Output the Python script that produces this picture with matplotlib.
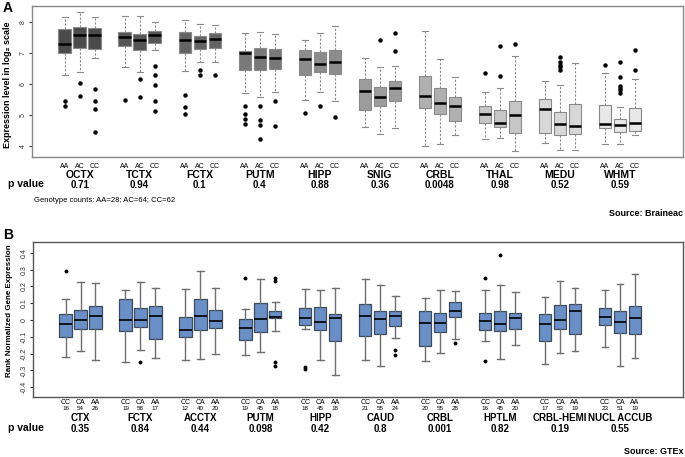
"""
Boxplots de expressão por genótipo em regiões cerebrais.
Painel A: Braineac (log2), painel B: GTEx (rank normalizado).
"""
import matplotlib
matplotlib.use("Agg")
import matplotlib.pyplot as plt
from matplotlib.transforms import blended_transform_factory

plt.rcParams["font.family"] = ["Liberation Sans", "DejaVu Sans"]

# ---------------------------------------------------------------------------
# Painel A - Braineac
# ---------------------------------------------------------------------------
regioes_a = ["OCTX", "TCTX", "FCTX", "PUTM", "HIPP",
             "SNIG", "CRBL", "THAL", "MEDU", "WHMT"]
p_a = ["0.71", "0.94", "0.1", "0.4", "0.88",
       "0.36", "0.0048", "0.98", "0.52", "0.59"]
genotipos_a = ["AA", "AC", "CC"]
cinzas_a = ["#4b4b4b", "#555555", "#636363", "#787878", "#8c8c8c",
            "#9c9c9c", "#b0b0b0", "#c6c6c6", "#d8d8d8", "#e8e8e8"]

# cada linha = uma região, valores para AA, AC, CC
med_a = [[7.29, 7.59, 7.57], [7.52, 7.41, 7.59], [7.41, 7.40, 7.45],
         [7.00, 6.88, 6.84], [6.81, 6.66, 6.70], [5.78, 5.60, 5.87],
         [5.62, 5.39, 5.29], [5.03, 4.76, 4.99], [5.19, 4.73, 4.66],
         [4.72, 4.67, 4.76]]
q1_a = [[7.00, 7.16, 7.14], [7.22, 7.09, 7.32], [7.02, 7.14, 7.18],
        [6.46, 6.44, 6.48], [6.30, 6.38, 6.34], [5.17, 5.30, 5.47],
        [5.23, 5.03, 4.81], [4.74, 4.61, 4.42], [4.44, 4.35, 4.38],
        [4.58, 4.46, 4.49]]
q3_a = [[7.77, 7.84, 7.80], [7.68, 7.61, 7.70], [7.68, 7.54, 7.65],
        [7.08, 7.18, 7.14], [7.11, 7.03, 7.11], [6.16, 5.92, 6.11],
        [6.25, 5.87, 5.57], [5.28, 5.17, 5.46], [5.52, 5.10, 5.35],
        [5.34, 4.89, 5.23]]
lo_a = [[6.28, 6.39, 6.85], [6.54, 6.38, 7.09], [6.43, 6.71, 6.71],
        [5.71, 5.60, 5.74], [5.49, 5.76, 5.47], [4.63, 4.39, 4.57],
        [4.01, 4.06, 4.37], [4.23, 4.25, 3.83], [4.10, 3.87, 3.88],
        [4.06, 4.06, 4.35]]
hi_a = [[8.15, 8.34, 8.18], [8.20, 8.21, 8.02], [8.08, 7.95, 7.91],
        [7.65, 7.69, 7.61], [7.43, 7.65, 7.86], [6.83, 6.55, 6.60],
        [7.70, 6.82, 6.23], [5.75, 5.86, 6.90], [6.11, 5.96, 6.68],
        [6.35, 5.27, 6.16]]
out_a = [[[5.47, 5.28], [6.03, 5.63], [5.84, 5.47, 5.19, 4.45]],
         [[5.49], [6.16, 5.58], [6.57, 6.30, 5.98, 5.44, 5.12]],
         [[5.66, 5.25, 5.03], [6.46, 6.30], [6.30]],
         [[5.28, 5.04, 4.88, 4.72], [5.31, 4.83, 4.67, 4.23], [5.44, 4.66]],
         [[5.06], [5.30], [4.94]],
         [[], [7.43], [7.65, 7.08]],
         [[], [], []],
         [[6.35], [6.25, 7.24], [7.29]],
         [[], [6.89, 6.73, 6.62, 6.54, 6.46], []],
         [[6.62], [6.73, 6.22, 5.95, 5.87, 5.80, 5.71], [7.09, 6.46]]]

# ---------------------------------------------------------------------------
# Painel B - GTEx
# ---------------------------------------------------------------------------
regioes_b = ["CTX", "FCTX", "ACCTX", "PUTM", "HIPP",
             "CAUD", "CRBL", "HPTLM", "CRBL-HEMI", "NUCL ACCUB"]
p_b = ["0.35", "0.84", "0.44", "0.098", "0.42",
       "0.8", "0.001", "0.82", "0.19", "0.55"]
genotipos_b = ["CC", "CA", "AA"]
n_b = [[16, 54, 26], [19, 58, 17], [12, 40, 20], [19, 45, 18], [18, 45, 18],
       [21, 55, 24], [20, 55, 28], [16, 45, 20], [17, 53, 19], [23, 51, 19]]

med_b = [[-0.024, 0.000, 0.022], [0.000, 0.000, 0.026], [-0.061, 0.022, -0.004],
         [-0.048, 0.004, 0.018], [0.012, -0.010, 0.012], [0.026, 0.008, 0.026],
         [-0.020, -0.020, 0.055], [-0.004, -0.022, 0.014], [-0.022, 0.000, 0.051],
         [0.020, -0.010, 0.012]]
q1_b = [[-0.100, -0.051, -0.051], [-0.063, -0.040, -0.111], [-0.099, -0.057, -0.048],
        [-0.117, -0.073, 0.010], [-0.032, -0.061, -0.123], [-0.097, -0.085, -0.036],
        [-0.156, -0.071, 0.016], [-0.059, -0.067, -0.051], [-0.123, -0.053, -0.085],
        [-0.032, -0.077, -0.081]]
q3_b = [[0.038, 0.061, 0.085], [0.123, 0.073, 0.081], [0.018, 0.123, 0.057],
        [0.006, 0.099, 0.051], [0.073, 0.077, 0.038], [0.097, 0.053, 0.051],
        [0.053, 0.044, 0.109], [0.044, 0.051, 0.042], [0.036, 0.091, 0.097],
        [0.073, 0.053, 0.083]]
lo_b = [[-0.218, -0.186, -0.236], [-0.250, -0.180, -0.224], [-0.240, -0.230, -0.204],
        [-0.206, -0.188, -0.063], [-0.053, -0.236, -0.325], [-0.240, -0.275, -0.107],
        [-0.246, -0.194, -0.111], [-0.125, -0.230, -0.150], [-0.259, -0.198, -0.182],
        [-0.162, -0.271, -0.224]]
hi_b = [[0.123, 0.226, 0.222], [0.176, 0.226, 0.190], [0.186, 0.293, 0.192],
        [0.063, 0.246, 0.107], [0.186, 0.180, 0.192], [0.242, 0.206, 0.143],
        [0.131, 0.180, 0.172], [0.176, 0.210, 0.166], [0.135, 0.232, 0.192],
        [0.176, 0.216, 0.271]]
out_b = [[[0.293], [], []],
         [[], [-0.250], []],
         [[], [], []],
         [[0.250], [], [0.250, 0.232, -0.250, -0.273]],
         [[-0.280, -0.289], [], []],
         [[], [], [-0.176, -0.206]],
         [[], [], [-0.137]],
         [[0.251, -0.246], [0.388], []],
         [[], [], []],
         [[], [], []]]


def montar_stats(med, q1, q3, lo, hi, out):
    stats = []
    for i in range(len(med)):
        for j in range(3):
            stats.append({"med": med[i][j], "q1": q1[i][j], "q3": q3[i][j],
                          "whislo": lo[i][j], "whishi": hi[i][j],
                          "fliers": out[i][j]})
    return stats


posicoes = [4 * i + j + 1 for i in range(10) for j in range(3)]
centros = [4 * i + 2 for i in range(10)]

fig = plt.figure(figsize=(6.85, 4.57), dpi=100)
W, H = 685, 457


def fy(px):
    return 1 - px / H


# ------------------------------- painel A ----------------------------------
axA = fig.add_axes([32 / W, fy(157), (683 - 32) / W, (157 - 6) / H])
bpA = axA.bxp(
    montar_stats(med_a, q1_a, q3_a, lo_a, hi_a, out_a),
    positions=posicoes, widths=0.82, capwidths=0.4, patch_artist=True,
    boxprops=dict(edgecolor="#8a8a8a", linewidth=0.8),
    medianprops=dict(color="black", linewidth=1.8),
    whiskerprops=dict(color="#8a8a8a", linewidth=0.8, linestyle=(0, (2, 1.5))),
    capprops=dict(color="#8a8a8a", linewidth=0.8),
    flierprops=dict(marker="o", markersize=2.2, markerfacecolor="black",
                    markeredgecolor="black"),
)
for k, caixa in enumerate(bpA["boxes"]):
    caixa.set_facecolor(cinzas_a[k // 3])

axA.set_xlim(-1.17, 42.2)
axA.set_ylim(3.65, 8.52)
axA.set_xticks([])
axA.set_yticks([4, 5, 6, 7, 8])
axA.tick_params(axis="y", labelsize=5, length=2, pad=2, labelrotation=90,
                colors="#333333")
for rot in axA.get_yticklabels():
    rot.set_va("center")
for lado in axA.spines.values():
    lado.set_color("#888888")
    lado.set_linewidth(1)
axA.set_ylabel("Expression level in log₂ scale", fontsize=6.5,
               fontweight="bold")
axA.yaxis.set_label_coords(-0.03, 0.48)

trA = blended_transform_factory(axA.transData, fig.transFigure)
for x, g in zip(posicoes, genotipos_a * 10):
    fig.text(x, fy(166), g, transform=trA, ha="center", va="center", fontsize=5)
for x, nome, p in zip(centros, regioes_a, p_a):
    fig.text(x, fy(175), nome, transform=trA, ha="center", va="center",
             fontsize=7.5, fontweight="bold")
    fig.text(x, fy(185), p, transform=trA, ha="center", va="center",
             fontsize=7, fontweight="bold")
fig.text(8 / W, fy(184), "p value", ha="left", va="center", fontsize=7.5,
         fontweight="bold")
fig.text(34 / W, fy(200), "Genotype counts: AA=28; AC=64; CC=62",
         ha="left", va="center", fontsize=5.5)
fig.text(683 / W, fy(213), "Source: Braineac", ha="right", va="center",
         fontsize=6.5, fontweight="bold")
fig.text(3 / W, fy(8), "A", ha="left", va="center", fontsize=10,
         fontweight="bold")

# ------------------------------- painel B ----------------------------------
axB = fig.add_axes([33 / W, fy(397), (683 - 33) / W, (397 - 242) / H])
bpB = axB.bxp(
    montar_stats(med_b, q1_b, q3_b, lo_b, hi_b, out_b),
    positions=posicoes, widths=0.82, capwidths=0.45, patch_artist=True,
    boxprops=dict(facecolor="#6a8ec6", edgecolor="#3d4b5e", linewidth=0.9),
    medianprops=dict(color="black", linewidth=1.2),
    whiskerprops=dict(color="#6f6f6f", linewidth=1),
    capprops=dict(color="#6f6f6f", linewidth=1),
    flierprops=dict(marker="o", markersize=1.8, markerfacecolor="black",
                    markeredgecolor="black"),
)

axB.set_xlim(-1.17, 42.2)
axB.set_ylim(-0.458, 0.464)
axB.set_xticks([])
axB.set_yticks([-0.4, -0.3, -0.2, -0.1, 0, 0.1, 0.2, 0.3, 0.4])
axB.set_yticklabels(["-0.4", "-0.3", "-0.2", "-0.1", "0",
                     "0.1", "0.2", "0.3", "0.4"])
axB.tick_params(axis="y", labelsize=5, length=2, pad=2, labelrotation=90,
                colors="#333333")
for rot in axB.get_yticklabels():
    rot.set_va("center")
for lado in axB.spines.values():
    lado.set_color("#555555")
    lado.set_linewidth(1)
axB.set_ylabel("Rank Normalized Gene Expression", fontsize=5.8,
               fontweight="bold")
axB.yaxis.set_label_coords(-0.031, 0.56)

trB = blended_transform_factory(axB.transData, fig.transFigure)
for i in range(10):
    for j in range(3):
        x = 4 * i + j + 1
        fig.text(x, fy(402), genotipos_b[j], transform=trB, ha="center",
                 va="center", fontsize=5)
        fig.text(x, fy(409), str(n_b[i][j]), transform=trB, ha="center",
                 va="center", fontsize=4.5)
for x, nome, p in zip(centros, regioes_b, p_b):
    fig.text(x, fy(418), nome, transform=trB, ha="center", va="center",
             fontsize=7, fontweight="bold")
    fig.text(x, fy(429), p, transform=trB, ha="center", va="center",
             fontsize=7, fontweight="bold")
fig.text(8 / W, fy(428), "p value", ha="left", va="center", fontsize=7.5,
         fontweight="bold")
fig.text(683 / W, fy(452), "Source: GTEx", ha="right", va="center",
         fontsize=6.5, fontweight="bold")
fig.text(3 / W, fy(235), "B", ha="left", va="center", fontsize=10,
         fontweight="bold")

fig.savefig("out.png", dpi=100)
